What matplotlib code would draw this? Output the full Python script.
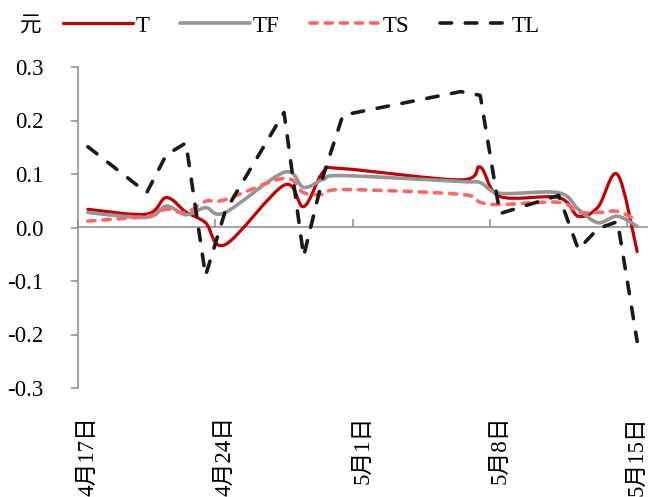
import numpy as np
import matplotlib.pyplot as plt
from matplotlib.path import Path
from matplotlib.patches import PathPatch
from matplotlib.lines import Line2D

plt.rcParams['font.family'] = ['Liberation Serif', 'Noto Sans CJK SC']

# trading days, counted from 4/17 (4/17 ... 5/15)
days = [0, 3, 4, 5, 6, 7, 10, 11, 12, 13, 19, 20, 21, 24, 25, 26, 27, 28]

t_vals  = [0.034, 0.025, 0.056, 0.029, 0.009, -0.032, 0.079, 0.039, 0.104, 0.110,
           0.089, 0.113, 0.058, 0.056, 0.021, 0.038, 0.099, -0.045]
tf_vals = [0.028, 0.019, 0.040, 0.024, 0.037, 0.028, 0.103, 0.075, 0.090, 0.097,
           0.086, 0.084, 0.064, 0.065, 0.034, 0.009, 0.021, 0.002]
ts_vals = [0.012, 0.021, 0.034, 0.028, 0.049, 0.052, 0.092, 0.065, 0.062, 0.071,
           0.062, 0.047, 0.043, 0.047, 0.029, 0.028, 0.030, 0.013]
tl_vals = [0.151, 0.065, 0.136, 0.158, -0.090, 0.030, 0.215, -0.054, 0.097, 0.210,
           0.254, 0.247, 0.026, 0.060, -0.041, -0.002, 0.011, -0.213]

series_names = ['T', 'TF', 'TS', 'TL']

tick_days = [0, 7, 14, 21, 28]
tick_labels = ['4月17日', '4月24日', '5月1日', '5月8日', '5月15日']
y_ticks = [-0.3, -0.2, -0.1, 0.0, 0.1, 0.2, 0.3]
y_labels = ['-0.3', '-0.2', '-0.1', '0.0', '0.1', '0.2', '0.3']

axis_gray = '#8c8c8c'


def line_path(x, y, smooth=True):
    # smoothed line like excel: bezier segments through every point
    pts = np.column_stack([x, y]).astype(float)
    n = len(pts)
    verts = [pts[0]]
    codes = [Path.MOVETO]
    for i in range(n - 1):
        if not smooth:
            verts.append(pts[i + 1])
            codes.append(Path.LINETO)
            continue
        p0 = pts[max(i - 1, 0)]
        p1 = pts[i]
        p2 = pts[i + 1]
        p3 = pts[min(i + 2, n - 1)]
        verts += [p1 + (p2 - p0) / 6.0, p2 - (p3 - p1) / 6.0, p2]
        codes += [Path.CURVE4] * 3
    return Path(verts, codes)


fig = plt.figure(figsize=(6.49, 4.97), dpi=100)
ax = fig.add_axes([78 / 649, 109 / 497, 569 / 649, 321 / 497])
ax.set_xlim(-0.5, 28.5)
ax.set_ylim(-0.3, 0.3)

styles = [
    dict(color='#c00000', lw=2.3, ls='-', smooth=True),
    dict(color='#969696', lw=2.6, ls='-', smooth=True),
    dict(color='#ff6666', lw=2.6, ls=(0, (2.0, 2.2)), smooth=True),
    dict(color='#1a1a1a', lw=2.6, ls=(0, (3.2, 3.8)), smooth=False),
]

handles = []
for vals, name, st in zip([t_vals, tf_vals, ts_vals, tl_vals], series_names, styles):
    patch = PathPatch(line_path(days, vals, st['smooth']), fill=False,
                      edgecolor=st['color'], lw=st['lw'], ls=st['ls'],
                      capstyle='round', joinstyle='round')
    ax.add_patch(patch)
    handles.append(Line2D([], [], color=st['color'], lw=st['lw'], ls=st['ls'],
                          dash_capstyle='round', solid_capstyle='round', label=name))

for s in ['top', 'right', 'bottom']:
    ax.spines[s].set_visible(False)
ax.spines['left'].set_color(axis_gray)
ax.spines['left'].set_linewidth(1.1)

ax.set_yticks(y_ticks)
ax.set_yticklabels(y_labels)
ax.tick_params(axis='y', direction='out', length=5, width=1.1, color=axis_gray,
               pad=20, labelsize=16.5)

ax.set_xticks(tick_days)
ax.set_xticklabels(tick_labels, rotation=90)
ax.tick_params(axis='x', length=0, pad=20, labelsize=16.5)

# zero line with tick marks between the days
sec = ax.secondary_xaxis(0.5)
sec.set_xticks([d - 0.5 for d in tick_days])
sec.set_xticklabels([])
sec.xaxis.set_ticks_position('top')
sec.tick_params(axis='x', direction='out', length=6, width=1.1, color=axis_gray)
for s in sec.spines.values():
    s.set_color(axis_gray)
    s.set_linewidth(1.1)

fig.text(20 / 649, 1 - 25 / 497, '元', fontsize=15.5, va='center', ha='left',
         family=['Noto Sans CJK SC', 'DejaVu Sans'])

fig.legend(handles=handles, ncol=4, frameon=False, fontsize=16.5,
           loc='center left', bbox_to_anchor=(63 / 649, 1 - 26 / 497),
           borderpad=0, borderaxespad=0, handlelength=3.05, handletextpad=0.1,
           columnspacing=1.35)

fig.savefig('out.png', dpi=100)
